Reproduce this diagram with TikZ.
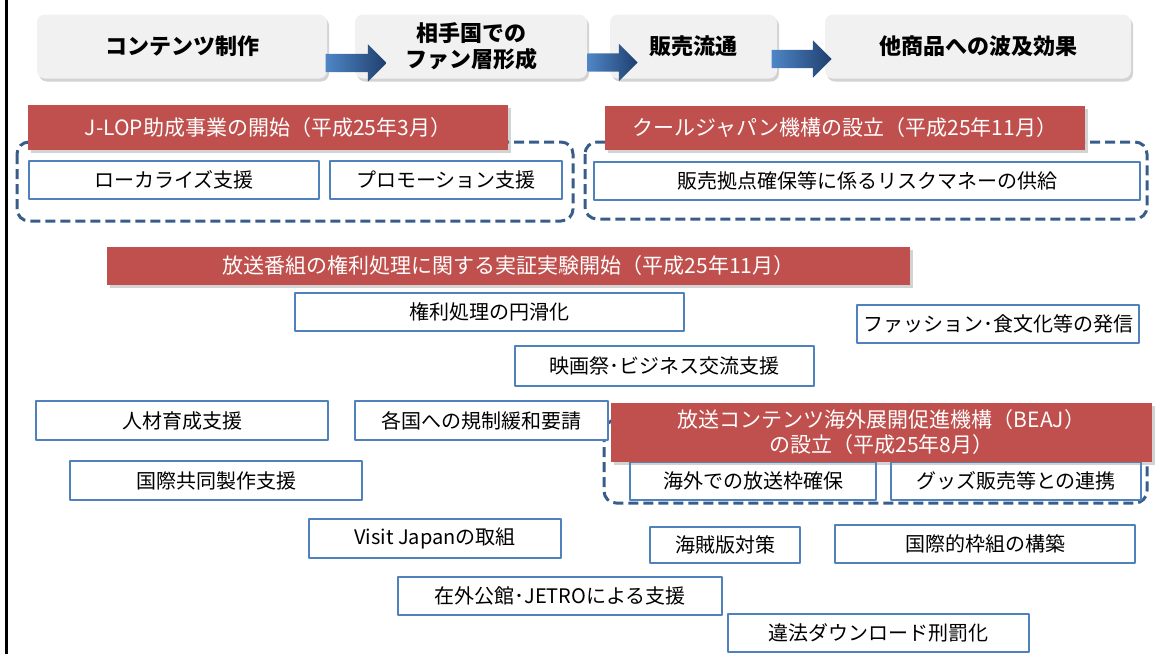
\documentclass[tikz,border=0pt]{standalone}
\usepackage{fontspec}
\setmainfont{Noto Sans CJK JP}
\usetikzlibrary{positioning,shapes.arrows,shadows}
\definecolor{stagefill}{HTML}{F1F1F1}
\definecolor{arrowlight}{HTML}{4F86C6}
\definecolor{arrowdark}{HTML}{1F3F6E}
\definecolor{bannerred}{HTML}{C0504D}
\definecolor{boxblue}{HTML}{4F81BD}
\definecolor{groupblue}{HTML}{385D8A}

\begin{document}
\begin{tikzpicture}[x=1pt,y=-1pt,line join=round]
    \tikzstyle{every node}=[font=\fontsize{20}{24}\selectfont,inner sep=0pt]
    \tikzstyle{stage}=[rounded corners=8pt,fill=stagefill,align=center,minimum height=64pt,font=\fontsize{22}{25.5}\selectfont\bfseries,drop shadow={shadow xshift=2pt,shadow yshift=-3pt,opacity=0.35}]
    \tikzstyle{flow}=[single arrow,inner ysep=9pt,minimum width=37pt,single arrow head extend=9.5pt,left color=arrowlight,right color=arrowdark]
    \tikzstyle{banner}=[fill=bannerred,text=white,align=center,font=\fontsize{21}{25}\selectfont,drop shadow={shadow xshift=3pt,shadow yshift=-3pt,opacity=0.35}]
    \tikzstyle{measure}=[draw=boxblue,line width=2.5pt,fill=white,minimum height=38pt]
    \tikzstyle{group}=[draw=groupblue,line width=3pt,dash pattern=on 10pt off 5pt,rounded corners=12pt]
    \useasboundingbox (0,0) rectangle (1159,654);
    \draw[line width=3pt] (6.5,0) -- (6.5,654);

    \node[stage,minimum width=290pt] (make) at (182,46.5) {コンテンツ制作};
    \node[stage,minimum width=232pt] (fans) at (471,46.5) {相手国での\\ファン層形成};
    \node[stage,minimum width=167pt] (sales) at (693.5,46.5) {販売流通};
    \node[stage,minimum width=306pt] (ripple) at (978,46.5) {他商品への波及効果};
    \node[flow,minimum height=61pt] (a1) at (351.5,63) {};
    \node[flow,minimum height=50pt] (a2) at (608,62.5) {};
    \node[flow,minimum height=60pt] (a3) at (797,59) {};

    \draw[group] (17,142) rectangle (573,221);
    \draw[group] (585,142) rectangle (1147,219);
    \draw[group] (604,420) rectangle (1147,503);

    \node[measure,minimum width=290pt] (local) at (174,180) {ローカライズ支援};
    \node[measure,minimum width=232pt] (promo) [right=8.5pt of local] {プロモーション支援};
    \node[measure,minimum width=546pt] (risk) at (867,181) {販売拠点確保等に係るリスクマネーの供給};
    \node[measure,minimum width=389pt] (smooth) at (489.5,312) {権利処理の円滑化};
    \node[measure,minimum width=282pt] (fashion) at (998,324) {ファッション･食文化等の発信};
    \node[measure,minimum width=299pt,minimum height=40pt] (festival) at (664.5,366) {映画祭･ビジネス交流支援};
    \node[measure,minimum width=292pt,minimum height=39pt] (talent) at (182,420.5) {人材育成支援};
    \node[measure,minimum width=253pt,minimum height=39pt] (dereg) at (481.5,420.5) {各国への規制緩和要請};
    \node[measure,minimum width=292pt,minimum height=39pt] (coprod) at (216,480.5) {国際共同製作支援};
    \node[measure,minimum width=246pt] (slot) at (753,481) {海外での放送枠確保};
    \node[measure,minimum width=250pt] (goods) [right=12.5pt of slot] {グッズ販売等との連携};
    \node[measure,minimum width=252pt,minimum height=39pt] (visit) at (435,538.5) {Visit Japanの取組};
    \node[measure,minimum width=150pt,minimum height=36pt] (piracy) at (725,545) {海賊版対策};
    \node[measure,minimum width=300pt] (treaty) at (985,544) {国際的枠組の構築};
    \node[measure,minimum width=324pt] (jetro) at (560,596) {在外公館･JETROによる支援};
    \node[measure,minimum width=301pt] (illegal) at (878.5,633) {違法ダウンロード刑罰化};

    \node[banner,minimum width=480pt,minimum height=45pt] (jlop) at (268,127.5) {J-LOP助成事業の開始（平成25年3月）};
    \node[banner,minimum width=480pt,minimum height=44pt] (cool) at (845,128) {クールジャパン機構の設立（平成25年11月）};
    \node[banner,minimum width=803pt,minimum height=38pt] (trial) at (508.5,266) {放送番組の権利処理に関する実証実験開始（平成25年11月）};
    \node[banner,minimum width=541pt,minimum height=59pt] (beaj) at (881.5,432.5) {放送コンテンツ海外展開促進機構（BEAJ）\\の設立（平成25年8月）};
\end{tikzpicture}
\end{document}
